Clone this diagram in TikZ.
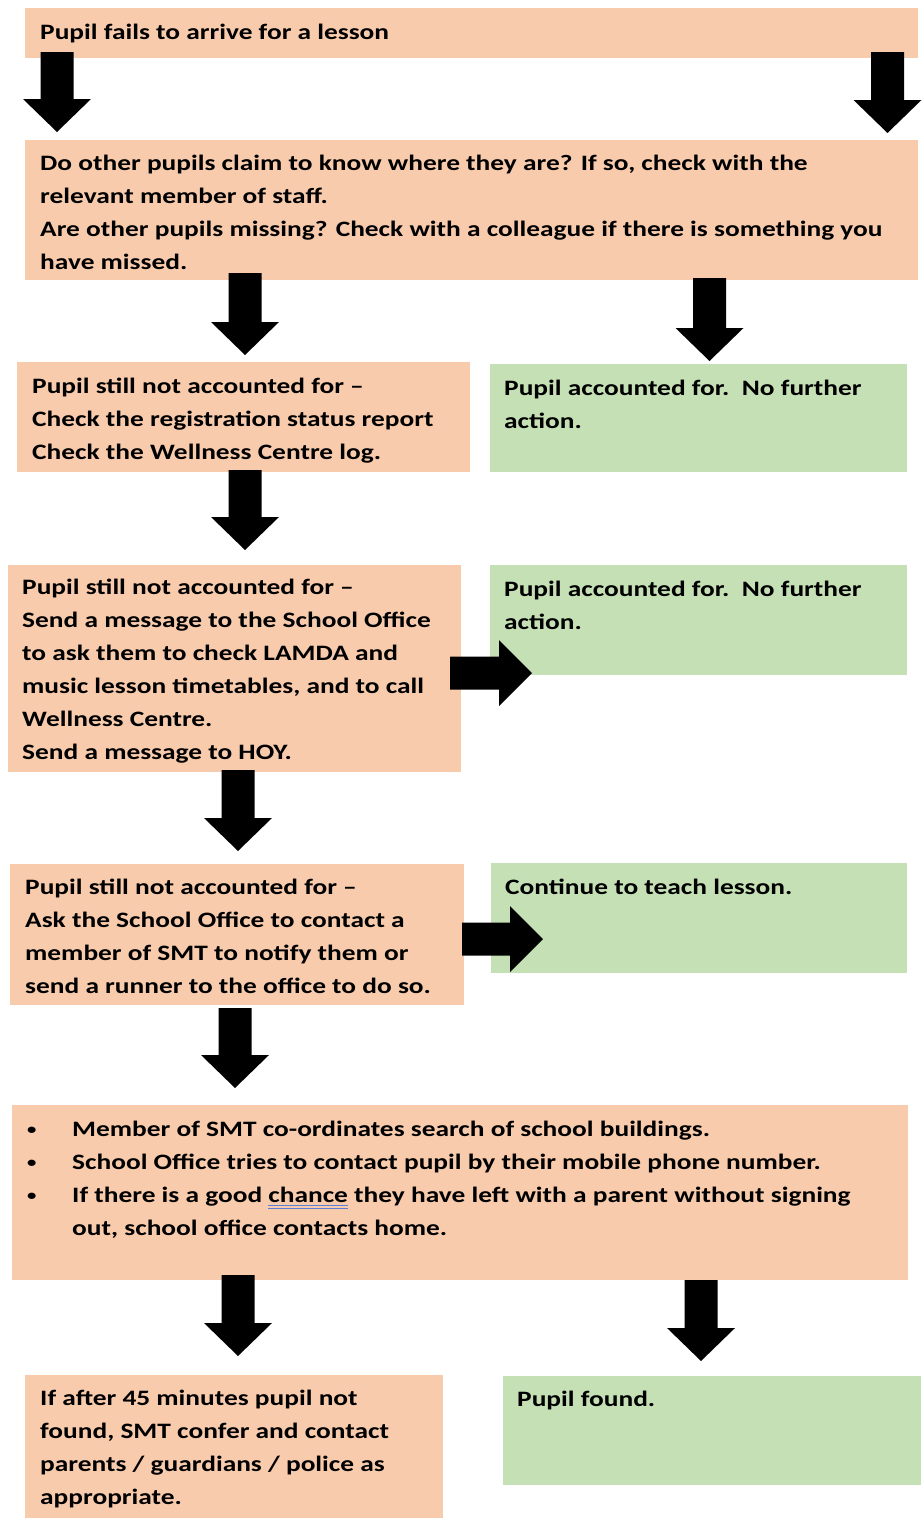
\documentclass[tikz,border=0pt]{standalone}
\usepackage{fontspec}
\setmainfont{Carlito}[FakeStretch=1.245]
\definecolor{peach}{HTML}{F8CBAD}
\definecolor{leaf}{HTML}{C5E0B4}
\definecolor{ulblue}{HTML}{5B7FD6}
\newlength\chw
\newcommand\darr[3]{% cx, ytop, ybot
  \pgfmathsetmacro\xa{#1-16.5}\pgfmathsetmacro\xb{#1+16.5}%
  \pgfmathsetmacro\xc{#1-34}\pgfmathsetmacro\xd{#1+34}%
  \pgfmathsetmacro\yh{#3-33}%
  \fill[black] (\xa,#2) -- (\xb,#2) -- (\xb,\yh) -- (\xd,\yh) -- (#1,#3) -- (\xc,\yh) -- (\xa,\yh) -- cycle;}
\newcommand\rarr[3]{% xl, xr, cy
  \pgfmathsetmacro\ya{#3-16.5}\pgfmathsetmacro\yb{#3+16.5}%
  \pgfmathsetmacro\yc{#3-33}\pgfmathsetmacro\yd{#3+33}%
  \pgfmathsetmacro\xh{#2-33}%
  \fill[black] (#1,\ya) -- (\xh,\ya) -- (\xh,\yc) -- (#2,#3) -- (\xh,\yd) -- (\xh,\yb) -- (#1,\yb) -- cycle;}
\newcommand\blk[1]{\parbox[t]{880pt}{\raggedright #1}}
\begin{document}
\begin{tikzpicture}[x=1pt,y=-1pt,
  txt/.style={anchor=base west,inner sep=0pt,font=\fontsize{22}{33}\selectfont\bfseries,text=black},
  bul/.style={anchor=base west,inner sep=0pt,font=\fontsize{15}{33}\selectfont\bfseries,text=black}]
\useasboundingbox (0,0) rectangle (923,1518);
% boxes
\fill[peach] (25,8) rectangle (918,58);
\fill[peach] (25,140) rectangle (918,280);
\fill[peach] (17,362) rectangle (470,472);
\fill[leaf] (490,364) rectangle (907,472);
\fill[peach] (8,565) rectangle (461,772);
\fill[leaf] (490,565) rectangle (907,675);
\fill[peach] (10,864) rectangle (464,1005);
\fill[leaf] (491,863) rectangle (907,973);
\fill[peach] (12,1105) rectangle (908,1280);
\fill[peach] (25,1375) rectangle (443,1518);
\fill[leaf] (503,1376) rectangle (921,1485);
% arrows
\darr{57}{52}{132}
\darr{887.5}{52}{133}
\darr{245}{273}{355}
\darr{709.5}{278}{361}
\darr{245}{470}{550}
\darr{238}{770}{851}
\darr{235}{1008}{1088}
\darr{238}{1275}{1356}
\darr{701}{1280}{1361}
\rarr{450}{532}{673}
\rarr{462}{543}{939}
% texts
\node[txt] (t1) at (40,39) {\blk{Pupil fails to arrive for a lesson}};
\node[txt] (t2) at (40,170) {\blk{Do other pupils claim to know where they are? If so, check with the\\relevant member of staff.\\Are other pupils missing? Check with a colleague if there is something you\\have missed.}};
\node[txt] (t3) at (32,393) {\blk{Pupil still not accounted for --\\Check the registration status report\\Check the Wellness Centre log.}};
\node[txt] (g3) at (504,395) {\blk{Pupil accounted for.\ \ No further\\action.}};
\node[txt] (t4) at (22,594) {\blk{Pupil still not accounted for --\\Send a message to the School Office\\to ask them to check LAMDA and\\music lesson timetables, and to call\\Wellness Centre.\\Send a message to HOY.}};
\node[txt] (g4) at (504,596) {\blk{Pupil accounted for.\ \ No further\\action.}};
\node[txt] (t5) at (25,894) {\blk{Pupil still not accounted for --\\Ask the School Office to contact a\\member of SMT to notify them or\\send a runner to the office to do so.}};
\node[txt] (g5) at (505,894) {\blk{Continue to teach lesson.}};
\node[bul] (b1) at (27,1134) {•};
\node[bul] (b2) at (27,1167) {•};
\node[bul] (b3) at (27,1200) {•};
\node[txt] (t6) at (72,1136) {\blk{Member of SMT co-ordinates search of school buildings.\\School Office tries to contact pupil by their mobile phone number.\\If there is a good \settowidth{\chw}{chance}\rlap{\color{ulblue}\rule[-4pt]{\chw}{0.8pt}}\rlap{\color{ulblue}\rule[-6.5pt]{\chw}{0.8pt}}chance they have left with a parent without signing\\out, school office contacts home.}};
\node[txt] (t7) at (40,1405) {\blk{If after 45 minutes pupil not\\found, SMT confer and contact\\parents / guardians / police as\\appropriate.}};
\node[txt] (g7) at (517,1406) {\blk{Pupil found.}};
\end{tikzpicture}
\end{document}
